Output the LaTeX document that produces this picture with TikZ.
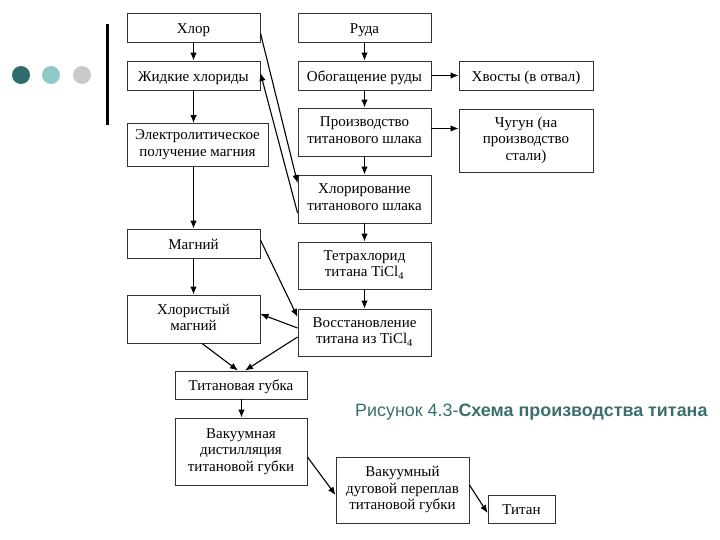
\documentclass[tikz,border=0pt]{standalone}
\usepackage{fontspec}
\setmainfont{Liberation Serif}
\newfontfamily\capfont{Liberation Sans}
\usetikzlibrary{arrows.meta}
\definecolor{tealdark}{HTML}{2E6B6B}
\definecolor{teallight}{HTML}{8FC9C9}
\definecolor{dotgrey}{HTML}{C9C9C9}
\definecolor{capcol}{HTML}{3A6F6C}
\tikzset{
  box/.style={draw=black!80, line width=0.9pt, fill=white, align=center, inner sep=1pt,
    font=\fontsize{15}{16.6}\selectfont,
    execute at begin node={\rule{0pt}{15pt}},
    execute at end node={\rule[-3.5pt]{0pt}{0pt}}},
  arr/.style={line width=1.1pt, -{Latex[length=8pt,width=6.5pt]}},
  dot/.style={circle, inner sep=0pt, minimum size=18pt}
}
\begin{document}
\begin{tikzpicture}[x=1pt,y=-1pt]
\useasboundingbox (0,0) rectangle (720,540);
% decoration
\node[dot, fill=tealdark] (d1) at (21,75) {};
\node[dot, fill=teallight] (d2) at (51,75) {};
\node[dot, fill=dotgrey] (d3) at (82,75) {};
\fill[black] (105.5,24) rectangle (108.5,125);
% left column
\node[box, minimum width=133pt, minimum height=29pt] (hlor) at (193.5,27.5) {Хлор};
\node[box, minimum width=133pt, minimum height=29pt] (zhid) at (193.5,75.5) {Жидкие хлориды};
\node[box, minimum width=141pt, minimum height=43pt] (elek) at (197.5,145) {Электролитическое\\получение магния};
\node[box, minimum width=133pt, minimum height=29pt] (magn) at (193.5,243.5) {Магний};
\node[box, minimum width=133pt, minimum height=48pt] (hlmg) at (193.5,319) {Хлористый\\магний};
\node[box, minimum width=132pt, minimum height=28pt] (gubka) at (241,385) {Титановая губка};
\node[box, minimum width=132pt, minimum height=67pt] (vdist) at (241,451.5) {Вакуумная\\дистилляция\\титановой губки};
\node[box, minimum width=133pt, minimum height=66pt] (vdug) at (402.5,490) {Вакуумный\\дуговой переплав\\титановой губки};
\node[box, minimum width=67pt, minimum height=28pt] (titan) at (521.5,509) {Титан};
% right column
\node[box, minimum width=133pt, minimum height=29pt] (ruda) at (364.5,27.5) {Руда};
\node[box, minimum width=133pt, minimum height=29pt] (obog) at (364.5,75.5) {Обогащение руды};
\node[box, minimum width=134pt, minimum height=29pt] (hvost) at (526,75.5) {Хвосты (в отвал)};
\node[box, minimum width=133pt, minimum height=48pt] (proizv) at (364.5,132) {Производство\\титанового шлака};
\node[box, minimum width=134pt, minimum height=63pt] (chug) at (526,140.5) {Чугун (на\\производство\\стали)};
\node[box, minimum width=133pt, minimum height=48pt] (hlorir) at (364.5,199) {Хлорирование\\титанового шлака};
\node[box, minimum width=133pt, minimum height=47pt] (tetra) at (364.5,265.5) {Тетрахлорид\\титана TiCl\textsubscript{4}};
\node[box, minimum width=133pt, minimum height=47pt] (vosst) at (364.5,332.5) {Восстановление\\титана из TiCl\textsubscript{4}};
% caption
\node[anchor=base west, inner sep=0pt, text=capcol, font=\capfont\fontsize{17.9}{20}\selectfont] (cap) at (355,416.5) {Рисунок 4.3-\textbf{Схема производства титана}};
% vertical arrows
\draw[arr] (hlor) -- (zhid);
\draw[arr] (zhid) -- (zhid |- elek.north);
\draw[arr] (zhid |- elek.south) -- (magn);
\draw[arr] (magn) -- (hlmg);
\draw[arr] (ruda) -- (obog);
\draw[arr] (obog) -- (proizv);
\draw[arr] (proizv) -- (hlorir);
\draw[arr] (hlorir) -- (tetra);
\draw[arr] (tetra) -- (vosst);
\draw[arr] ([xshift=0.5pt]gubka.south) -- ([xshift=0.5pt]vdist.north);
% horizontal arrows
\draw[arr] (obog) -- (hvost);
\draw[arr] ([yshift=3.5pt]proizv.east) -- ([yshift=3.5pt]proizv.east -| chug.west);
% diagonal arrows
\draw[arr] ([yshift=-5.5pt]hlor.east) -- ([yshift=16pt]hlorir.west);
\draw[arr] ([yshift=-14pt]hlorir.west) -- ([yshift=2.5pt]zhid.east);
\draw[arr] ([yshift=3.5pt]magn.east) -- ([yshift=15.5pt]vosst.west);
\draw[arr] ([yshift=4.5pt]vosst.west) -- ([yshift=5pt]hlmg.east);
\draw[arr] ([xshift=8.5pt]hlmg.south) -- ([xshift=-3pt]gubka.north);
\draw[arr] ([yshift=-4.5pt]vosst.west) -- ([xshift=4pt]gubka.north);
\draw[arr] ([yshift=-5.5pt]vdist.east) -- ([yshift=-5pt]vdug.west);
\draw[arr] ([yshift=5pt]vdug.east) -- ([yshift=-4pt]titan.west);
\end{tikzpicture}
\end{document}
